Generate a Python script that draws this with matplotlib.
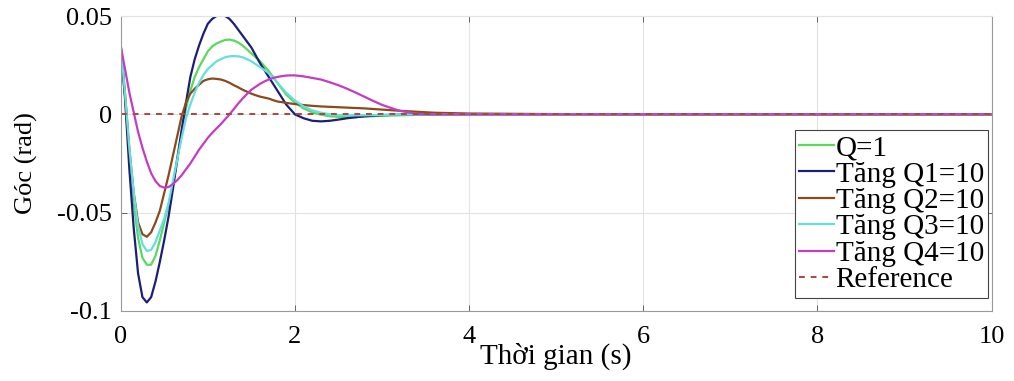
import matplotlib
matplotlib.use('Agg')
import matplotlib.pyplot as plt
from matplotlib.ticker import FormatStrFormatter

plt.rcParams['font.family'] = ['Liberation Serif', 'DejaVu Serif']

# time samples (s)
t = [0, 0.05, 0.1, 0.15, 0.2, 0.25, 0.3, 0.35, 0.4, 0.45, 0.5, 0.55, 0.6, 0.65, 0.7, 0.75,
     0.8, 0.85, 0.9, 0.95, 1.0, 1.05, 1.1, 1.15, 1.2, 1.25, 1.3, 1.35, 1.4, 1.45, 1.5,
     1.55, 1.6, 1.65, 1.7, 1.75, 1.8, 1.85, 1.9, 1.95, 2.0,
     2.1, 2.2, 2.3, 2.4, 2.5, 2.6, 2.7, 2.8, 2.9, 3.0,
     3.2, 3.4, 3.6, 4.0, 5.0, 6.0, 7.0, 8.0, 9.0, 10.0]

q_base = [0.035, 0.010, -0.020, -0.045, -0.063, -0.073, -0.0765, -0.0765, -0.072, -0.064,
          -0.055, -0.046, -0.036, -0.022, -0.009, 0.003, 0.012, 0.019, 0.024, 0.028,
          0.032, 0.0345, 0.036, 0.037, 0.0378, 0.038, 0.0375, 0.0365, 0.035, 0.033,
          0.031, 0.029, 0.027, 0.0245, 0.022, 0.019, 0.016, 0.013, 0.010, 0.008, 0.006,
          0.003, 0.001, -0.0002, -0.001, -0.0013, -0.0015, -0.0014, -0.0012, -0.001, -0.0008,
          -0.0005, -0.0003, -0.0001, 0.0, 0.0, 0.0, 0.0, 0.0, 0.0, 0.0]
q1 = [0.035, 0.008, -0.028, -0.058, -0.081, -0.093, -0.0957, -0.093, -0.085, -0.075,
      -0.064, -0.052, -0.038, -0.023, -0.008, 0.006, 0.019, 0.028, 0.035, 0.041,
      0.046, 0.0485, 0.050, 0.0503, 0.050, 0.0485, 0.046, 0.043, 0.040, 0.037,
      0.034, 0.030, 0.026, 0.0225, 0.019, 0.0155, 0.012, 0.0085, 0.005, 0.0025, 0.0,
      -0.002, -0.0033, -0.0036, -0.0033, -0.0027, -0.002, -0.0015, -0.001, -0.0007, -0.0004,
      -0.0002, -0.0001, 0.0, 0.0, 0.0, 0.0, 0.0, 0.0, 0.0, 0.0]
q2 = [0.035, 0.010, -0.018, -0.040, -0.055, -0.061, -0.0623, -0.060, -0.055, -0.049,
      -0.040, -0.031, -0.021, -0.011, -0.001, 0.006, 0.0105, 0.013, 0.015, 0.017,
      0.0178, 0.0182, 0.0180, 0.0177, 0.017, 0.016, 0.0148, 0.0137, 0.0125, 0.0115,
      0.0105, 0.0097, 0.0090, 0.0085, 0.0080, 0.0072, 0.0065, 0.0062, 0.0058, 0.0055, 0.0052,
      0.0047, 0.0043, 0.0040, 0.0038, 0.0036, 0.0034, 0.0032, 0.0030, 0.0027, 0.0024,
      0.0018, 0.0013, 0.0008, 0.0004, 0.0001, 0.0, 0.0, 0.0, 0.0, 0.0]
q3 = [0.035, 0.011, -0.017, -0.040, -0.057, -0.066, -0.0695, -0.069, -0.065, -0.059,
      -0.053, -0.045, -0.034, -0.023, -0.012, -0.002, 0.005, 0.011, 0.016, 0.020,
      0.023, 0.025, 0.027, 0.028, 0.029, 0.0295, 0.0296, 0.0295, 0.029, 0.028,
      0.027, 0.0255, 0.024, 0.0225, 0.021, 0.0185, 0.016, 0.0135, 0.011, 0.009, 0.007,
      0.004, 0.002, 0.0008, 0.0, -0.0004, -0.0005, -0.0005, -0.0005, -0.0004, -0.0003,
      -0.0002, -0.0001, 0.0, 0.0, 0.0, 0.0, 0.0, 0.0, 0.0, 0.0]
q4 = [0.035, 0.023, 0.011, 0.001, -0.009, -0.017, -0.024, -0.030, -0.034, -0.0365,
      -0.0373, -0.037, -0.0355, -0.0335, -0.031, -0.028, -0.025, -0.0215, -0.018, -0.015,
      -0.012, -0.0095, -0.0072, -0.005, -0.0025, 0.0, 0.0027, 0.0055, 0.008, 0.0103,
      0.0125, 0.014, 0.0155, 0.0167, 0.0177, 0.0185, 0.019, 0.0194, 0.0197, 0.0198, 0.0198,
      0.0193, 0.0185, 0.0177, 0.0163, 0.0148, 0.013, 0.011, 0.0089, 0.0068, 0.0048,
      0.0018, 0.0003, 0.0, 0.0, 0.0, 0.0, 0.0, 0.0, 0.0, 0.0]
ref = [0.0] * len(t)

labels = ['Q=1', 'Tăng Q1=10', 'Tăng Q2=10', 'Tăng Q3=10', 'Tăng Q4=10']
colors = ['#5ad95a', '#1e1e78', '#8b4a1c', '#64dede', '#c43cc4']

fig = plt.figure(figsize=(10.14, 3.81), dpi=100)
ax = fig.add_axes([0.119, 0.184, 0.859, 0.774])

for y, lab, c in zip([q_base, q1, q2, q3, q4], labels, colors):
    ax.plot(t, y, color=c, lw=1.6, label=lab)
ax.plot(t, ref, color='#b0443c', lw=1.4, ls='--', dashes=(3, 3), label='Reference')

ax.set_xlim(0, 10)
ax.set_ylim(-0.1, 0.05)
ax.set_xticks([0, 2, 4, 6, 8, 10])
ax.set_yticks([-0.1, -0.05, 0, 0.05])
ax.yaxis.set_major_formatter(FormatStrFormatter('%g'))
ax.grid(True, color='#e2e2e2', lw=0.8)
ax.tick_params(direction='in', length=4, width=0.7, color='#666666',
               labelsize=19, top=True, right=True)
ax.tick_params(axis='x', pad=11)
ax.tick_params(axis='y', pad=6)
for s in ax.spines.values():
    s.set_color('#9a9a9a')
    s.set_linewidth(0.8)
ax.spines['top'].set_color('#e2e2e2')

ax.set_xlabel('Thời gian (s)', fontsize=21, labelpad=-4)
ax.set_ylabel('Góc (rad)', fontsize=19, labelpad=14)

leg = ax.legend(loc='lower right', bbox_to_anchor=(0.996, 0.045), fontsize=21,
                labelspacing=0.0, handlelength=1.2, handletextpad=0.05,
                borderpad=0.15, borderaxespad=0, fancybox=False, framealpha=1)
leg.get_frame().set_edgecolor('#444444')
leg.get_frame().set_linewidth(0.8)

fig.savefig('out.png', dpi=100)
